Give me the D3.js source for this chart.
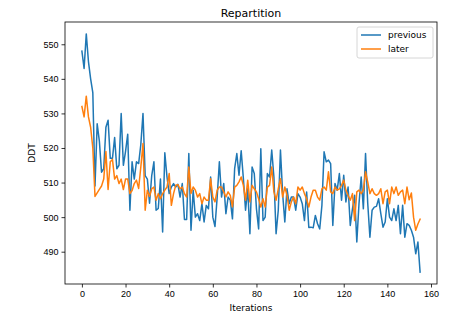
<!DOCTYPE html>
<html>
<head>
<meta charset="utf-8">
<script src="https://cdn.jsdelivr.net/npm/d3@7"></script>
<style>
  body { margin: 0; background: #fff; }
  svg { font-family: "DejaVu Sans", sans-serif; }
</style>
</head>
<body>
<div id="chart"></div>
<script type="text/javascript">
  // values
  const previous = [548, 543, 553, 545, 540, 536, 509, 527, 522, 513, 514, 526, 528, 517, 517, 523, 514, 515, 530, 515,
    519, 524, 502, 516, 511, 516, 515.5, 521, 530, 512, 511, 504, 512, 516, 502, 502.5, 511, 495.7, 518.6, 511.6,
    506.8, 508.7, 509.7, 508.7, 509.5, 505.8, 509.7, 499.3, 499.3, 518.4, 496.2, 507.8, 500, 501, 499, 503.9, 498.6, 503.4, 502.4, 511.6,
    500, 497.3, 505.8, 516, 505.8, 509.7, 501, 505.8, 504.9, 499.5, 514, 518.4, 512.1, 519.2, 511.2, 502, 508.2, 495.2, 514.5, 512.6,
    502.4, 496.6, 519.8, 499, 500, 512.6, 511.6, 519.4, 511.6, 495.2, 502, 519.4, 506.8, 498.6, 508.2, 503.9, 505.8, 505.8, 502, 506.8,
    505.8, 503.9, 499, 507.3, 497, 497.1, 496.9, 500.5, 498.1, 496.6, 503.4, 518.9, 516, 516.5, 515.5, 497.6, 509.7, 507.8, 512.6, 504.9,
    512.1, 504.4, 508.7, 497.6, 502.4, 506.3, 492.8, 503.9, 511.6, 502.4, 518.4, 504, 494.2, 502, 502.9, 503.1, 505.3, 501, 497.1, 498.6,
    505.3, 500, 499, 502.4, 499, 503.4, 495.2, 503.4, 494.2, 498.1, 497.6, 496.2, 494.2, 489.4, 492.8, 484.1];

  const later = [532, 529, 535, 529, 526, 520, 506, 507, 508, 509, 511, 519, 508, 516, 516.7, 511, 512, 509.7, 511, 508,
    511, 511, 506.8, 507.7, 509.7, 510.7, 508.3, 514.5, 521.3, 502, 507.8, 506, 508.2, 508.7, 504.9, 506.8, 505.3, 506.8, 507.8, 508.7,
    512.6, 503.4, 506.8, 509.2, 509.4, 508.2, 508.7, 506.8, 505.8, 514.5, 506.8, 508.7, 507.8, 505.8, 506.8, 503.9, 505.8, 504.9, 504.9, 511.1,
    505.8, 504.4, 507.8, 508.7, 508.7, 507.3, 505.8, 507.3, 506.3, 503, 508.7, 509.2, 510.2, 511.6, 509.2, 504.9, 510.7, 504.4, 509.2, 508.2,
    507.3, 505.3, 502.9, 505.3, 502.9, 508.7, 509.2, 514.5, 507.3, 504.9, 508.2, 511.1, 505.8, 508.7, 506.3, 502, 504.4, 505.8, 503.9, 508.7,
    507.8, 508.7, 506.8, 505.3, 502.9, 505.8, 507.8, 507.8, 505.8, 504.9, 508.2, 508.7, 507.8, 513.1, 507.3, 506.8, 508.7, 507.8, 508.2, 509.2,
    510.7, 507.8, 506.3, 504.9, 506.8, 499, 507.3, 507.8, 506.8, 507.8, 513.1, 510.2, 506.8, 508.2, 506.8, 506.3, 506.8, 508.2, 503.9, 507.3,
    507.8, 503.9, 508.7, 506.8, 508.7, 506.3, 507.3, 507.8, 503.9, 508.7, 505, 507, 500, 496.2, 498, 499.4];

  const xTicks = [0, 20, 40, 60, 80, 100, 120, 140, 160];
  const yTicks = [490, 500, 510, 520, 530, 540, 550];
  const seriesNames = ["previous", "later"];
  const seriesColors = ["#1f77b4", "#ff7f0e"];

  const width = 468, height = 315;
  const margin = {left: 65, right: 31, top: 22, bottom: 31};

  const svg = d3.select("#chart").append("svg")
    .attr("width", width)
    .attr("height", height);

  // matplotlib style 5% margins around the data
  const n = previous.length;
  const xPad = (n - 1) * 0.05;
  const allVals = previous.concat(later);
  const yMin = d3.min(allVals), yMax = d3.max(allVals);
  const yPad = (yMax - yMin) * 0.05;

  const x = d3.scaleLinear()
    .domain([-xPad, n - 1 + xPad])
    .range([margin.left, width - margin.right]);

  const y = d3.scaleLinear()
    .domain([yMin - yPad, yMax + yPad])
    .range([height - margin.bottom, margin.top]);

  const xAxis = svg.append("g")
    .attr("transform", "translate(0," + (height - margin.bottom) + ")")
    .call(d3.axisBottom(x).tickValues(xTicks).tickSize(3.5).tickPadding(3));

  const yAxis = svg.append("g")
    .attr("transform", "translate(" + margin.left + ",0)")
    .call(d3.axisLeft(y).tickValues(yTicks).tickSize(3.5).tickPadding(3));

  [xAxis, yAxis].forEach(function(a) {
    a.select(".domain").remove();
    a.selectAll("line").attr("stroke", "#000").attr("stroke-width", 0.8);
    a.selectAll("text").attr("fill", "#000").style("font-size", "9px");
  });

  // series lines
  const line = d3.line()
    .x(function(d, i) { return x(i); })
    .y(function(d) { return y(d); });

  [previous, later].forEach(function(s, k) {
    svg.append("path")
      .datum(s)
      .attr("fill", "none")
      .attr("stroke", seriesColors[k])
      .attr("stroke-width", 1.5)
      .attr("stroke-linejoin", "round")
      .attr("stroke-linecap", "square")
      .attr("d", line);
  });

  // frame
  svg.append("rect")
    .attr("x", margin.left)
    .attr("y", margin.top)
    .attr("width", width - margin.left - margin.right)
    .attr("height", height - margin.top - margin.bottom)
    .attr("fill", "none")
    .attr("stroke", "#000")
    .attr("stroke-width", 0.8);

  // title and labels
  svg.append("text")
    .attr("x", (margin.left + width - margin.right) / 2)
    .attr("y", 17)
    .attr("text-anchor", "middle")
    .style("font-size", "11px")
    .text("Repartition");

  svg.append("text")
    .attr("x", (margin.left + width - margin.right) / 2)
    .attr("y", 311)
    .attr("text-anchor", "middle")
    .style("font-size", "9px")
    .text("Iterations");

  svg.append("text")
    .attr("transform", "translate(35," + ((margin.top + height - margin.bottom) / 2) + ") rotate(-90)")
    .attr("text-anchor", "middle")
    .style("font-size", "9px")
    .text("DDT");

  // legend
  const legend = svg.append("g")
    .attr("transform", "translate(357, 27)");

  legend.append("rect")
    .attr("width", 76)
    .attr("height", 31)
    .attr("rx", 2)
    .attr("fill", "#fff")
    .attr("fill-opacity", 0.8)
    .attr("stroke", "#ccc")
    .attr("stroke-width", 0.8);

  seriesNames.forEach(function(name, k) {
    const yy = 8 + k * 14;
    legend.append("line")
      .attr("x1", 4).attr("x2", 24)
      .attr("y1", yy).attr("y2", yy)
      .attr("stroke", seriesColors[k])
      .attr("stroke-width", 1.5);
    legend.append("text")
      .attr("x", 31)
      .attr("y", yy + 3.2)
      .style("font-size", "9px")
      .text(name);
  });
</script>
</body>
</html>
